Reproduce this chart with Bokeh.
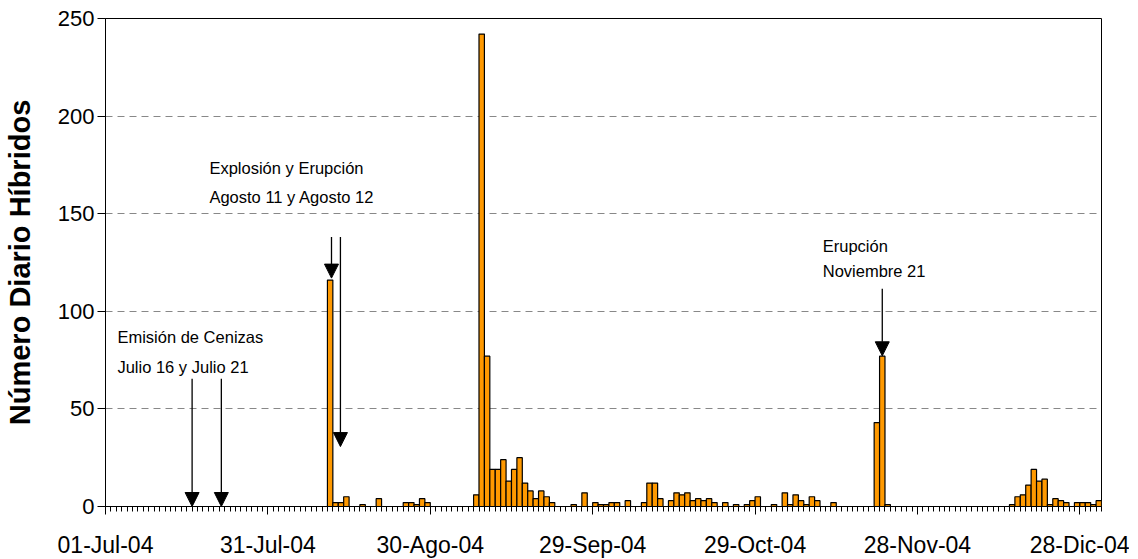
from bokeh.plotting import figure
from bokeh.models import Range1d, FixedTicker, Arrow, NormalHead, ColumnDataSource
from bokeh.core.properties import value
from bokeh.embed import file_html
from bokeh.resources import INLINE

# Daily counts of hybrid events, 01-Jul-04 .. 31-Dic-04 (184 days)
counts = (
    [0] * 41
    + [116, 2, 2, 5, 0, 0, 1, 0, 0, 4, 0, 0, 0, 0, 2, 2, 1, 4, 2]          # days 41-59
    + [0] * 8                                                             # days 60-67
    + [6, 242, 77, 19, 19, 24, 13, 19, 25, 12, 8, 4, 8, 5, 2]             # days 68-82
    + [0, 0, 0, 1, 0, 7, 0, 2, 1, 1, 2, 2, 0, 3, 0, 0, 2, 12, 12, 4]      # days 83-102
    + [0, 3, 7, 6, 7, 3, 4, 3, 4, 2, 0, 2, 0, 1, 0, 1, 3, 5]              # days 103-120
    + [0, 0, 1, 0, 7, 1, 6, 3, 1, 5, 3, 0, 0, 2]                          # days 121-134
    + [0] * 7                                                             # days 135-141
    + [43, 77, 1]                                                         # days 142-144
    + [0] * 22                                                            # days 145-166
    + [1, 5, 6, 11, 19, 13, 14, 1, 4, 3, 2, 0, 2, 2, 2, 1, 3]             # days 167-183
)
days = list(range(len(counts)))

tick_days = [0, 30, 60, 90, 120, 150, 180]
tick_labels = ["01-Jul-04", "31-Jul-04", "30-Ago-04", "29-Sep-04",
               "29-Oct-04", "28-Nov-04", "28-Dic-04"]

# Annotations (day position, count level)
note_texts = ["Emisión de Cenizas", "Julio 16 y Julio 21",
              "Explosión y Erupción", "Agosto 11 y Agosto 12",
              "Erupción", "Noviembre 21"]
note_x = [2.2, 2.2, 19.2, 19.2, 132.5, 132.5]
note_y = [87.0, 71.6, 173.4, 158.6, 133.5, 120.7]

arrow_x = [16.0, 21.4, 41.75, 43.4, 143.5]
arrow_y_start = [65.5, 65.5, 138.0, 138.0, 111.5]
arrow_y_end = [0.0, 0.0, 117.0, 30.7, 77.2]

FONT = "Liberation Sans"

p = figure(frame_width=996, frame_height=488, output_backend="svg", toolbar_location=None,
           x_range=Range1d(0, len(counts)), y_range=Range1d(0, 250),
           min_border_left=97, min_border_right=28, min_border_top=18,
           min_border_bottom=40)

p.vbar(x=[d + 0.5 for d in days], top=counts, width=1.0,
       fill_color="#FF9900", line_color="black", line_width=1.2)

# axes
p.xaxis.ticker = FixedTicker(ticks=tick_days, minor_ticks=list(range(len(counts) + 1)))
p.xaxis.major_label_overrides = {d: lab for d, lab in zip(tick_days, tick_labels)}
p.yaxis.ticker = FixedTicker(ticks=[0, 50, 100, 150, 200, 250])

for ax in (p.xaxis[0], p.yaxis[0]):
    ax.axis_line_color = "black"
    ax.axis_line_width = 1
    ax.major_tick_line_color = "black"
    ax.major_tick_in = 0
    ax.major_tick_out = 8
    ax.major_label_text_font = FONT
    ax.major_label_text_color = "black"

p.xaxis.major_label_text_font_size = "23px"
p.yaxis.major_label_text_font_size = "22px"
p.xaxis.minor_tick_in = 0
p.xaxis.minor_tick_out = 5
p.xaxis.minor_tick_line_color = "black"
p.xaxis.major_label_standoff = 17
p.yaxis.minor_tick_line_color = None
p.yaxis.major_label_standoff = 3

p.yaxis.axis_label = "Número Diario Híbridos"
p.yaxis.axis_label_text_font = FONT
p.yaxis.axis_label_text_font_style = "bold"
p.yaxis.axis_label_text_font_size = "29px"
p.yaxis.axis_label_text_color = "black"
p.yaxis.axis_label_standoff = 19

p.xgrid.grid_line_color = None
p.ygrid.ticker = FixedTicker(ticks=[50, 100, 150, 200])
p.ygrid.grid_line_color = "#888888"
p.ygrid.grid_line_dash = "7 5"
p.ygrid.grid_line_width = 1

p.outline_line_color = "black"
p.outline_line_width = 1
p.outline_line_alpha = 1.0
p.background_fill_color = "white"
p.border_fill_color = "white"

# annotation text
src = ColumnDataSource(dict(x=note_x, y=note_y, t=note_texts))
p.text(x="x", y="y", text="t", source=src, text_font=value(FONT),
       text_font_size="16.5px", text_color="black", text_baseline="middle",
       text_align="left")

# arrows
for ax_, ys, ye in zip(arrow_x, arrow_y_start, arrow_y_end):
    p.add_layout(Arrow(end=NormalHead(size=14, fill_color="black", line_color="black"),
                       x_start=ax_, y_start=ys, x_end=ax_, y_end=ye,
                       line_color="black", line_width=1.3))

open("out.html", "w").write(file_html(p, INLINE))
